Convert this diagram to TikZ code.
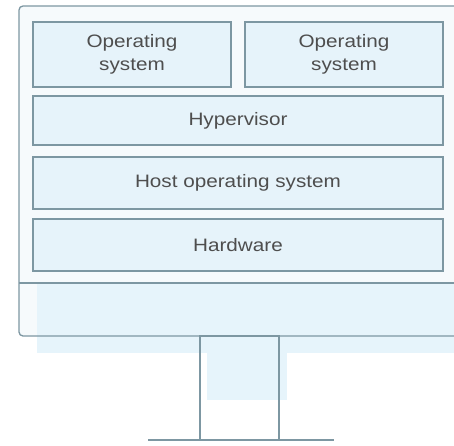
\documentclass[tikz,border=0pt]{standalone}
\usepackage{fontspec}
\setmainfont{Liberation Sans}[FakeStretch=1.15]
\definecolor{edge}{HTML}{7D97A2}
\definecolor{boxfill}{HTML}{E6F3FA}
\definecolor{screen}{HTML}{F6FAFC}
\definecolor{glow}{HTML}{E6F4FB}
\definecolor{txt}{HTML}{4E4E4E}
\tikzset{
  layer/.style={draw=edge, line width=1.3pt, fill=boxfill, text=txt, align=center,
    font=\fontsize{18}{23}\selectfont, inner sep=0pt},
  frame/.style={draw=edge, line width=1.3pt}
}
\begin{document}
\begin{tikzpicture}[x=1pt,y=-1pt]
\useasboundingbox (0,0) rectangle (454,445);
\clip (0,0) rectangle (454,445);
\fill[white] (0,0) rectangle (454,445);
% monitor body
\fill[screen, rounded corners=4pt] (19,6) rectangle (470,336);
\fill[glow] (37,283) rectangle (470,353);
\fill[glow] (207,336) rectangle (287,400);
\draw[frame, rounded corners=4pt] (19,6) rectangle (470,336);
\coordinate (chinL) at (19,283);
\coordinate (chinR) at (470,283);
\draw[frame] (chinL) -- (chinR);
% layers
\node[layer, minimum width=198, minimum height=65] (os1) at (132,54.5) {Operating\\system};
\node[layer, minimum width=198, minimum height=65] (os2) at (344,54.5) {Operating\\system};
\node[layer, minimum width=410, minimum height=49] (hyp) at (238,120.5) {Hypervisor};
\node[layer, minimum width=410, minimum height=52] (host) at (238,183) {Host operating system};
\node[layer, minimum width=410, minimum height=52] (hw) at (238,245) {Hardware};
% stand
\draw[frame] (200,336) rectangle (279,440);
\coordinate (baseL) at (148,440);
\coordinate (baseR) at (334,440);
\draw[frame] (baseL) -- (baseR);
\end{tikzpicture}
\end{document}
